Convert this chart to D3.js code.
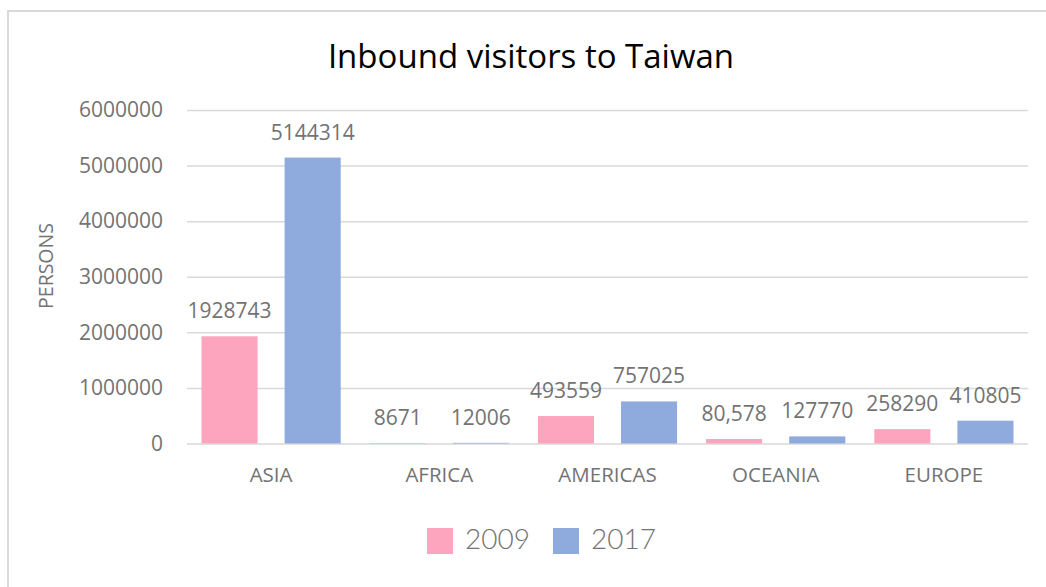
<!DOCTYPE html>
<html>
<head>
<meta charset="utf-8">
<script src="https://cdn.jsdelivr.net/npm/d3@7"></script>
<style>
  html, body { margin: 0; padding: 0; background: #fff; overflow: hidden; }
  svg { display: block; }
</style>
</head>
<body>
<svg id="chart" width="1046" height="587"></svg>
<script>
// ---- data ----
const categories = ["ASIA", "AFRICA", "AMERICAS", "OCEANIA", "EUROPE"];
const seriesNames = ["2009", "2017"];
const values2009 = [1928743, 8671, 493559, 80578, 258290];
const values2017 = [5144314, 12006, 757025, 127770, 410805];
const labels2009 = ["1928743", "8671", "493559", "80,578", "258290"];
const labels2017 = ["5144314", "12006", "757025", "127770", "410805"];
const yTicks = [0, 1000000, 2000000, 3000000, 4000000, 5000000, 6000000];
const colors = ["#FDA4BE", "#8FAADC"];
const titleText = "Inbound visitors to Taiwan";
const yAxisTitle = "PERSONS";

const svg = d3.select("#chart");
const font = "'Open Sans', sans-serif";
const textGray = "#737373";

// border (only left and top edges fall inside the view)
svg.append("rect")
  .attr("x", 8).attr("y", 11).attr("width", 1300).attr("height", 900)
  .attr("fill", "none").attr("stroke", "#d9d9d9").attr("stroke-width", 2);

const plot = { left: 187, right: 1028, top: 110, bottom: 443.5 };

const x0 = d3.scaleBand().domain(categories).range([plot.left, plot.right]).paddingInner(0).paddingOuter(0);
const x1 = d3.scaleBand().domain(seriesNames)
  .range([14.5, x0.bandwidth() - 14.5]).paddingInner(0.3253).paddingOuter(0);
const y = d3.scaleLinear().domain([0, 6000000]).range([plot.bottom, plot.top]);

// gridlines + tick labels
const yAxis = d3.axisLeft(y).tickValues(yTicks).tickSize(-(plot.right - plot.left)).tickPadding(24)
  .tickFormat(d3.format("d"));
const gy = svg.append("g").attr("transform", `translate(${plot.left},0)`).call(yAxis);
gy.select(".domain").remove();
gy.selectAll(".tick line").attr("stroke", "#d9d9d9").attr("stroke-width", 1.5);
gy.selectAll(".tick text").attr("fill", textGray).style("font-family", font).style("font-size", "21px");

// title
svg.append("text").attr("x", 531).attr("y", 68).attr("text-anchor", "middle")
  .style("font-family", font).style("font-size", "33px").attr("fill", "#000")
  .text(titleText);

// y axis title
svg.append("text").attr("transform", "translate(53,266) rotate(-90)").attr("text-anchor", "middle")
  .style("font-family", font).style("font-size", "19.5px").attr("fill", textGray)
  .text(yAxisTitle);

// bars
const rows = categories.map((c, i) => ({
  cat: c,
  items: [
    { s: seriesNames[0], v: values2009[i], label: labels2009[i], color: colors[0] },
    { s: seriesNames[1], v: values2017[i], label: labels2017[i], color: colors[1] }
  ]
}));

const groups = svg.append("g").selectAll("g").data(rows).join("g")
  .attr("transform", d => `translate(${x0(d.cat)},0)`);

groups.selectAll("rect").data(d => d.items).join("rect")
  .attr("x", d => x1(d.s)).attr("width", x1.bandwidth())
  .attr("y", d => y(d.v)).attr("height", d => y(0) - y(d.v))
  .attr("fill", d => d.color);

groups.selectAll("text.lbl").data(d => d.items).join("text").attr("class", "lbl")
  .attr("x", d => x1(d.s) + x1.bandwidth() / 2).attr("y", d => y(d.v) - 18)
  .attr("text-anchor", "middle").attr("fill", textGray)
  .style("font-family", font).style("font-size", "21px")
  .text(d => d.label);

// category labels
const xAxis = d3.axisBottom(x0).tickSize(0).tickPadding(0);
const gx = svg.append("g").attr("transform", `translate(0,${plot.bottom})`).call(xAxis);
gx.select(".domain").remove();
gx.selectAll(".tick text").attr("y", 38.5).attr("dy", null).attr("fill", textGray)
  .style("font-family", font).style("font-size", "20.5px");

// legend
const legX = [427, 553];
const leg = svg.append("g").selectAll("g").data(seriesNames).join("g")
  .attr("transform", (d, i) => `translate(${legX[i]},528)`);
leg.append("rect").attr("width", 26).attr("height", 26).attr("fill", (d, i) => colors[i]);
leg.append("text").attr("x", 38).attr("y", 20.5).attr("fill", textGray)
  .style("font-family", "Lato, sans-serif").style("font-size", "28px").style("font-weight", 300)
  .text(d => d);
</script>
</body>
</html>
